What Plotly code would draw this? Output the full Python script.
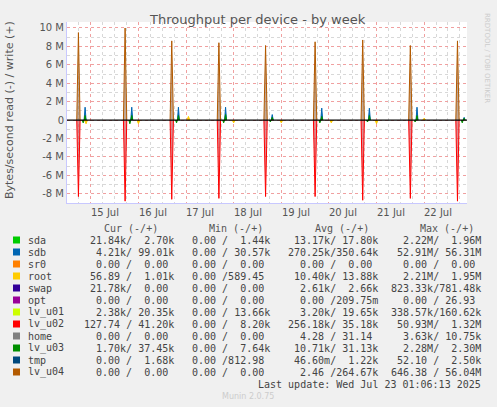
import plotly.graph_objects as go

# spike times in days since graph start (14 Jul 12:00)
spike_days = [0.24, 1.22, 2.20, 3.19, 4.17, 5.21, 6.21, 7.21, 8.20]
lv_u04_write = [9.5, 10.0, 8.6, 8.4, 8.1, 8.5, 8.7, 8.1, 8.6]   # M
lv_u02_read = [-8.3, -8.8, -8.6, -8.5, -8.3, -8.3, -8.7, -8.5, -8.8]
sdb_write = [1.4, 1.4, 1.4, 1.4, 0.6, 1.3, 1.3, 1.4, 0.3]
lv_u03_write = [0.5, 0.5, 0.5, 0.6, 0.3, 0.4, 0.5, 0.5, 0.2]
lv_u03_read = [-0.3, -0.4, -0.3, -0.3, -0.2, -0.3, -0.2, -0.2, -0.3]
root_days = [0.4, 1.5, 2.55, 3.5, 4.5, 5.55, 6.5, 7.5]
root_vals = [-0.4, -0.4, 0.4, -0.3, -0.3, -0.3, -0.4, 0.2]

day_labels = ["15 Jul", "16 Jul", "17 Jul", "18 Jul", "19 Jul", "20 Jul", "21 Jul", "22 Jul"]
label_pos = [0.8, 1.8, 2.8, 3.8, 4.8, 5.8, 6.8, 7.8]

legend_names = ["sda", "sdb", "sr0", "root", "swap", "opt", "lv_u01", "lv_u02", "home", "lv_u03", "tmp", "lv_u04"]
legend_colors = ["#00cc00", "#0066b3", "#ff8000", "#ffcc00", "#330099", "#990099",
                 "#ccff00", "#ff0000", "#808080", "#008f00", "#00487d", "#b35a00"]
cur = ["21.84k/  2.70k", " 4.21k/ 99.01k", " 0.00 /  0.00 ", "56.89 /  1.01k", "21.78k/  0.00 ",
       " 0.00 /  0.00 ", " 2.38k/ 20.35k", "127.74 / 41.20k", " 0.00 /  0.00 ", " 1.70k/ 37.45k",
       " 0.00 /  1.68k", " 0.00 /  0.00 "]
mins = ["0.00 /  1.44k", "0.00 / 30.57k", "0.00 /  0.00 ", "0.00 /589.45 ", "0.00 /  0.00 ",
        "0.00 /  0.00 ", "0.00 / 13.66k", "0.00 /  8.20k", "0.00 /  0.00 ", "0.00 /  7.64k",
        "0.00 /812.98 ", "0.00 /  0.00 "]
avgs = [" 13.17k/ 17.80k", "270.25k/350.64k", "  0.00 /  0.00 ", " 10.40k/ 13.88k", "  2.61k/  2.66k",
        "  0.00 /209.75m", "  3.20k/ 19.65k", "256.18k/ 35.18k", "  4.28 / 31.14 ", " 10.71k/ 31.13k",
        " 46.60m/  1.22k", "  2.46 /264.67k"]
maxs = ["  2.22M/  1.96M", " 52.91M/ 56.31M", "  0.00 /  0.00 ", "  2.21M/  1.95M", "823.33k/781.48k",
        "  0.00 / 26.93 ", "338.57k/160.62k", " 50.93M/  1.32M", "  3.63k/ 10.75k", "  2.28M/  2.30M",
        " 52.10 /  2.50k", "646.38 / 56.04M"]

W, H = 497, 407
L, R, T, B = 67, 467, 22, 203


def px(x):
    return x / W


def py(y):
    return 1 - y / H


def spikes(days, vals, width=0.05, shift=0.0):
    xs, ys = [], []
    for d, v in zip(days, vals):
        xs += [d + shift - width, d + shift, d + shift + width, None]
        ys += [0, v * 1e6, 0, None]
    return xs, ys


fig = go.Figure()
series = [
    (spike_days, lv_u02_read, "#ff0000", "rgba(200,60,70,0.6)", 0.035, 0.0),
    (spike_days, lv_u04_write, "#b35a00", "rgba(150,110,80,0.6)", 0.035, 0.0),
    (spike_days, sdb_write, "#0066b3", "#0066b3", 0.02, 0.14),
    (spike_days, lv_u03_write, "#008f00", "#008f00", 0.02, 0.14),
    (spike_days, lv_u03_read, "#008f00", "#008f00", 0.02, 0.1),
    (root_days, root_vals, "#ffcc00", "#ffcc00", 0.03, 0.0),
]
for days, vals, color, fillc, w, sh in series:
    xs, ys = spikes(days, vals, w, sh)
    fig.add_trace(go.Scatter(x=xs, y=ys, mode="lines", line=dict(color=color, width=1),
                             fill="tozeroy", fillcolor=fillc, showlegend=False))

fig.add_hline(y=0, line=dict(color="black", width=1.2))

mono = "DejaVu Sans Mono"
ann = []


def text(x, y, t, anchor="center", size=10, color="#444", family=mono, angle=0, xref="paper"):
    ann.append(dict(x=x, y=y, xref=xref, yref="paper", text=t.replace(" ", "&nbsp;"), showarrow=False,
                    xanchor=anchor, yanchor="middle", textangle=angle,
                    font=dict(family=family, size=size, color=color)))


for p, t in zip(label_pos, day_labels):
    text(p, py(212), t, family="DejaVu Sans", color="#555", xref="x")
for xpix, t in [(160, "Cur (-/+)"), (265, "Min (-/+)"), (371, "Avg (-/+)"), (476, "Max (-/+)")]:
    text(px(xpix), py(228), t, anchor="right", color="#555")
for i, name in enumerate(legend_names):
    yp = py(240 + i * 12)
    text(px(26), yp, name, anchor="left")
    for xpix, col in [(176, cur), (272, mins), (380, avgs), (483, maxs)]:
        text(px(xpix), yp, col[i], anchor="right")
text(px(483), py(384), "Last update: Wed Jul 23 01:06:13 2025", anchor="right")
text(px(248), py(396), "Munin 2.0.75", size=8, color="#ccc", family="DejaVu Sans")
text(px(487), py(58), "RRDTOOL / TOBI OETIKER", size=7, color="#ccc", family="DejaVu Sans", angle=90)
text(px(257), py(19), "Throughput per device - by week", size=13, color="#555", family="DejaVu Sans")
text(px(9), py(110), "Bytes/second read (-) / write (+)", size=11, color="#555",
     family="DejaVu Sans", angle=-90)

for i, c in enumerate(legend_colors):
    yp = 240 + i * 12
    fig.add_shape(type="rect", xref="paper", yref="paper", x0=px(13), x1=px(20),
                  y0=py(yp + 3.5), y1=py(yp - 3.5), fillcolor=c, line_width=0)

fig.update_layout(
    width=W, height=H, margin=dict(l=0, r=0, t=0, b=0, autoexpand=False),
    paper_bgcolor="#f0f0f0", plot_bgcolor="white",
    font=dict(family="DejaVu Sans", size=10, color="#555"),
    annotations=ann, showlegend=False,
    xaxis=dict(domain=[L / W, R / W], range=[0, 8.4], tick0=0.5, dtick=1, showticklabels=False, ticks="",
               showgrid=True, gridcolor="#f0a0a0", griddash="dot", gridwidth=1, zeroline=False,
               minor=dict(dtick=0.25, showgrid=True, gridcolor="#d8d8d8", griddash="dot"),
               showline=True, linecolor="#c8c8ff"),
    yaxis=dict(domain=[1 - B / H, 1 - T / H], range=[-9.0e6, 10.65e6],
               tickvals=[-8e6, -6e6, -4e6, -2e6, 0, 2e6, 4e6, 6e6, 8e6, 10e6],
               ticktext=["-8 M", "-6 M", "-4 M", "-2 M", "0", "2 M", "4 M", "6 M", "8 M", "10 M"],
               showgrid=True, gridcolor="#f0a0a0", griddash="dot", zeroline=False, ticks="",
               minor=dict(dtick=1e6, showgrid=True, gridcolor="#d8d8d8", griddash="dot"),
               showline=True, linecolor="#c8c8ff"),
)

fig.write_html("out.html", config={"displayModeBar": False},
               post_script="document.body.style.margin='0';")
